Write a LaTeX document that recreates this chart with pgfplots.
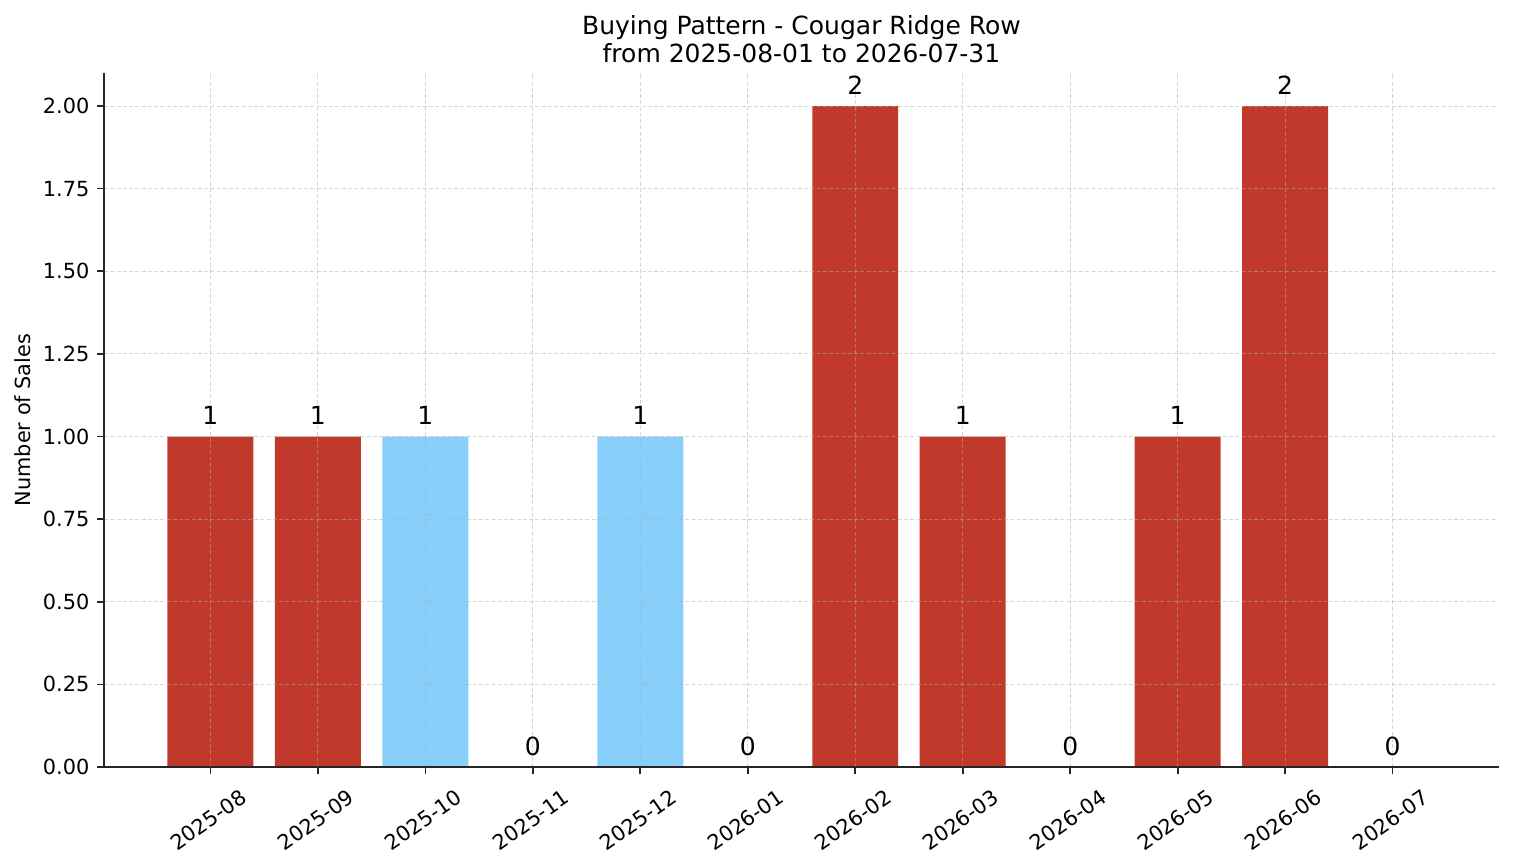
\documentclass[border=0pt]{standalone}
\usepackage{fontspec}
\setmainfont{DejaVu Sans}
\usepackage{pgfplots}
\pgfplotsset{compat=1.18}
\definecolor{barred}{HTML}{C0392B}
\definecolor{barblue}{HTML}{87CEFA}
\definecolor{gridc}{RGB}{176,176,176}
\begin{document}
\begin{tikzpicture}
\useasboundingbox (0,0) rectangle (726.72pt,414.24pt);
\begin{axis}[
  at={(49.92pt,46.08pt)}, anchor=south west,
  scale only axis, width=669.6pt, height=333.12pt,
  xmin=-0.99, xmax=11.99, ymin=0, ymax=2.1,
  axis x line*=bottom, axis y line*=left,
  axis line style={line width=0.8pt, black!85},
  tick style={line width=0.8pt, black!85},
  tick align=outside, major tick length=3.5pt,
  xtick={0,...,11},
  xticklabels={2025-08,2025-09,2025-10,2025-11,2025-12,2026-01,2026-02,2026-03,2026-04,2026-05,2026-06,2026-07},
  xticklabel style={anchor=center, yshift=-22pt, xshift=-1pt, rotate=35, font=\fontsize{10}{12}\selectfont},
  ytick={0,0.25,...,2.0},
  yticklabel style={/pgf/number format/.cd, fixed, fixed zerofill, precision=2, /tikz/.cd, font=\fontsize{10}{12}\selectfont},
  /pgf/number format/assume math mode=true,
  ylabel={Number of Sales},
  ylabel style={font=\fontsize{10}{12}\selectfont, xshift=0pt, yshift=-1pt},
  title={Buying Pattern - Cougar Ridge Row\\from 2025-08-01 to 2026-07-31},
  title style={align=center, font=\fontsize{12}{13.5}\selectfont, yshift=-4.5pt},
  grid=major,
  major grid style={line width=0.4pt, gridc, opacity=0.5, dash pattern=on 2pt off 1pt},
  axis on top,
  ybar, bar width=0.8,
  nodes near coords,
  every node near coord/.append style={font=\fontsize{12}{14}\selectfont, black, yshift=2pt},
]
\addplot[ybar, bar shift=0pt, fill=barred, draw=none, nodes near coords={}] coordinates {(0,1) (1,1) (6,2) (7,1) (9,1) (10,2)};
\addplot[ybar, bar shift=0pt, fill=barblue, draw=none, nodes near coords={}] coordinates {(2,1) (4,1)};
\addplot[ybar, bar shift=0pt, fill=none, draw=none, nodes near coords, point meta=y,
  nodes near coords={\pgfmathprintnumber[fixed,precision=0]{\pgfplotspointmeta}}] coordinates {(0,1) (1,1) (2,1) (3,0) (4,1) (5,0) (6,2) (7,1) (8,0) (9,1) (10,2) (11,0)};
\end{axis}
\end{tikzpicture}
\end{document}
